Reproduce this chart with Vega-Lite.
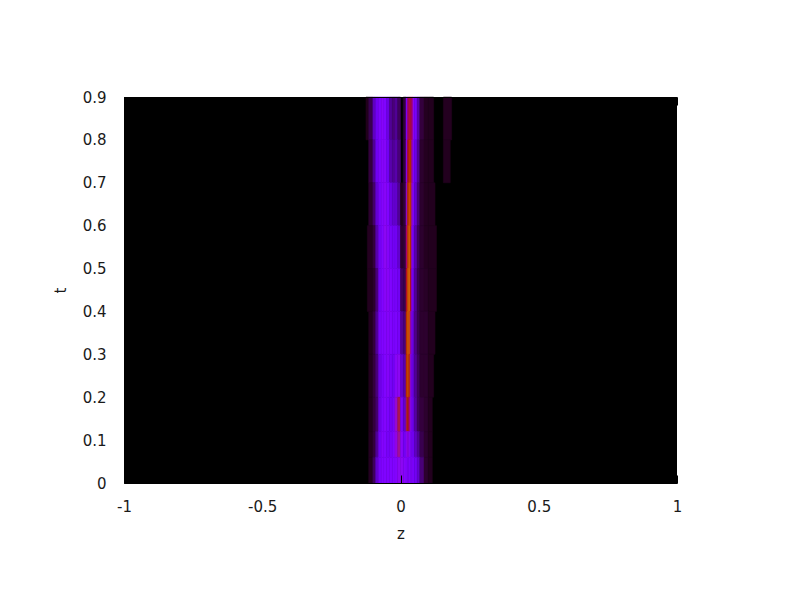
{"$schema":"https://vega.github.io/schema/vega-lite/v6.json","width":553,"height":386,"autosize":"none","padding":{"left":124,"top":97,"right":123,"bottom":117},"background":"white","config":{"view":{"fill":"#000000","stroke":null}},
"layer":[{
"data":{"values":[
{"t0":0.8,"t1":0.9,"z0":-0.125,"z1":-0.115,"v":0.01},{"t0":0.8,"t1":0.9,"z0":-0.115,"z1":-0.1,"v":0.05},{"t0":0.8,"t1":0.9,"z0":-0.1,"z1":-0.09,"v":0.14},{"t0":0.8,"t1":0.9,"z0":-0.09,"z1":-0.08,"v":0.2},{"t0":0.8,"t1":0.9,"z0":-0.08,"z1":-0.07,"v":0.24},{"t0":0.8,"t1":0.9,"z0":-0.07,"z1":-0.06,"v":0.27},{"t0":0.8,"t1":0.9,"z0":-0.06,"z1":-0.05,"v":0.25},{"t0":0.8,"t1":0.9,"z0":-0.05,"z1":-0.04,"v":0.18},{"t0":0.8,"t1":0.9,"z0":-0.04,"z1":-0.03,"v":0.1},{"t0":0.8,"t1":0.9,"z0":-0.03,"z1":-0.02,"v":0.08},{"t0":0.8,"t1":0.9,"z0":-0.02,"z1":-0.01,"v":0.1},{"t0":0.8,"t1":0.9,"z0":-0.01,"z1":0,"v":0.06},{"t0":0.8,"t1":0.9,"z0":0.01,"z1":0.02,"v":0.04},{"t0":0.8,"t1":0.9,"z0":0.02,"z1":0.025,"v":0.25},{"t0":0.8,"t1":0.9,"z0":0.025,"z1":0.03,"v":0.42},{"t0":0.8,"t1":0.9,"z0":0.03,"z1":0.035,"v":0.46},{"t0":0.8,"t1":0.9,"z0":0.035,"z1":0.04,"v":0.46},{"t0":0.8,"t1":0.9,"z0":0.04,"z1":0.045,"v":0.42},{"t0":0.8,"t1":0.9,"z0":0.045,"z1":0.05,"v":0.3},{"t0":0.8,"t1":0.9,"z0":0.05,"z1":0.06,"v":0.22},{"t0":0.8,"t1":0.9,"z0":0.06,"z1":0.07,"v":0.12},{"t0":0.8,"t1":0.9,"z0":0.07,"z1":0.085,"v":0.04},{"t0":0.8,"t1":0.9,"z0":0.085,"z1":0.1,"v":0.02},{"t0":0.8,"t1":0.9,"z0":0.1,"z1":0.12,"v":0.015},{"t0":0.8,"t1":0.9,"z0":0.155,"z1":0.185,"v":0.02},
{"t0":0.7,"t1":0.8,"z0":-0.115,"z1":-0.1,"v":0.04},{"t0":0.7,"t1":0.8,"z0":-0.1,"z1":-0.09,"v":0.1},{"t0":0.7,"t1":0.8,"z0":-0.09,"z1":-0.08,"v":0.2},{"t0":0.7,"t1":0.8,"z0":-0.08,"z1":-0.07,"v":0.24},{"t0":0.7,"t1":0.8,"z0":-0.07,"z1":-0.06,"v":0.27},{"t0":0.7,"t1":0.8,"z0":-0.06,"z1":-0.05,"v":0.27},{"t0":0.7,"t1":0.8,"z0":-0.05,"z1":-0.04,"v":0.2},{"t0":0.7,"t1":0.8,"z0":-0.04,"z1":-0.03,"v":0.12},{"t0":0.7,"t1":0.8,"z0":-0.03,"z1":-0.02,"v":0.1},{"t0":0.7,"t1":0.8,"z0":-0.02,"z1":-0.01,"v":0.12},{"t0":0.7,"t1":0.8,"z0":-0.01,"z1":0,"v":0.08},{"t0":0.7,"t1":0.8,"z0":0.01,"z1":0.02,"v":0.04},{"t0":0.7,"t1":0.8,"z0":0.02,"z1":0.025,"v":0.3},{"t0":0.7,"t1":0.8,"z0":0.025,"z1":0.03,"v":0.48},{"t0":0.7,"t1":0.8,"z0":0.03,"z1":0.035,"v":0.55},{"t0":0.7,"t1":0.8,"z0":0.035,"z1":0.04,"v":0.55},{"t0":0.7,"t1":0.8,"z0":0.04,"z1":0.045,"v":0.38},{"t0":0.7,"t1":0.8,"z0":0.045,"z1":0.05,"v":0.25},{"t0":0.7,"t1":0.8,"z0":0.05,"z1":0.06,"v":0.18},{"t0":0.7,"t1":0.8,"z0":0.06,"z1":0.07,"v":0.1},{"t0":0.7,"t1":0.8,"z0":0.07,"z1":0.085,"v":0.03},{"t0":0.7,"t1":0.8,"z0":0.085,"z1":0.1,"v":0.02},{"t0":0.7,"t1":0.8,"z0":0.1,"z1":0.12,"v":0.015},{"t0":0.7,"t1":0.8,"z0":0.155,"z1":0.18,"v":0.015},
{"t0":0.6,"t1":0.7,"z0":-0.115,"z1":-0.1,"v":0.03},{"t0":0.6,"t1":0.7,"z0":-0.1,"z1":-0.09,"v":0.07},{"t0":0.6,"t1":0.7,"z0":-0.09,"z1":-0.08,"v":0.16},{"t0":0.6,"t1":0.7,"z0":-0.08,"z1":-0.07,"v":0.22},{"t0":0.6,"t1":0.7,"z0":-0.07,"z1":-0.06,"v":0.26},{"t0":0.6,"t1":0.7,"z0":-0.06,"z1":-0.05,"v":0.28},{"t0":0.6,"t1":0.7,"z0":-0.05,"z1":-0.04,"v":0.25},{"t0":0.6,"t1":0.7,"z0":-0.04,"z1":-0.03,"v":0.18},{"t0":0.6,"t1":0.7,"z0":-0.03,"z1":-0.02,"v":0.15},{"t0":0.6,"t1":0.7,"z0":-0.02,"z1":-0.01,"v":0.15},{"t0":0.6,"t1":0.7,"z0":-0.01,"z1":0,"v":0.1},{"t0":0.6,"t1":0.7,"z0":0,"z1":0.01,"v":0.01},{"t0":0.6,"t1":0.7,"z0":0.01,"z1":0.02,"v":0.04},{"t0":0.6,"t1":0.7,"z0":0.02,"z1":0.025,"v":0.35},{"t0":0.6,"t1":0.7,"z0":0.025,"z1":0.03,"v":0.55},{"t0":0.6,"t1":0.7,"z0":0.03,"z1":0.035,"v":0.65},{"t0":0.6,"t1":0.7,"z0":0.035,"z1":0.04,"v":0.6},{"t0":0.6,"t1":0.7,"z0":0.04,"z1":0.045,"v":0.35},{"t0":0.6,"t1":0.7,"z0":0.045,"z1":0.05,"v":0.25},{"t0":0.6,"t1":0.7,"z0":0.05,"z1":0.06,"v":0.15},{"t0":0.6,"t1":0.7,"z0":0.06,"z1":0.07,"v":0.08},{"t0":0.6,"t1":0.7,"z0":0.07,"z1":0.085,"v":0.03},{"t0":0.6,"t1":0.7,"z0":0.085,"z1":0.1,"v":0.02},{"t0":0.6,"t1":0.7,"z0":0.1,"z1":0.125,"v":0.015},
{"t0":0.5,"t1":0.6,"z0":-0.12,"z1":-0.1,"v":0.02},{"t0":0.5,"t1":0.6,"z0":-0.1,"z1":-0.09,"v":0.04},{"t0":0.5,"t1":0.6,"z0":-0.09,"z1":-0.08,"v":0.12},{"t0":0.5,"t1":0.6,"z0":-0.08,"z1":-0.07,"v":0.2},{"t0":0.5,"t1":0.6,"z0":-0.07,"z1":-0.06,"v":0.25},{"t0":0.5,"t1":0.6,"z0":-0.06,"z1":-0.05,"v":0.3},{"t0":0.5,"t1":0.6,"z0":-0.05,"z1":-0.04,"v":0.27},{"t0":0.5,"t1":0.6,"z0":-0.04,"z1":-0.03,"v":0.22},{"t0":0.5,"t1":0.6,"z0":-0.03,"z1":-0.02,"v":0.2},{"t0":0.5,"t1":0.6,"z0":-0.02,"z1":-0.01,"v":0.2},{"t0":0.5,"t1":0.6,"z0":-0.01,"z1":0,"v":0.15},{"t0":0.5,"t1":0.6,"z0":0,"z1":0.01,"v":0.03},{"t0":0.5,"t1":0.6,"z0":0.01,"z1":0.02,"v":0.04},{"t0":0.5,"t1":0.6,"z0":0.02,"z1":0.025,"v":0.42},{"t0":0.5,"t1":0.6,"z0":0.025,"z1":0.03,"v":0.62},{"t0":0.5,"t1":0.6,"z0":0.03,"z1":0.035,"v":0.72},{"t0":0.5,"t1":0.6,"z0":0.035,"z1":0.04,"v":0.55},{"t0":0.5,"t1":0.6,"z0":0.04,"z1":0.045,"v":0.3},{"t0":0.5,"t1":0.6,"z0":0.045,"z1":0.05,"v":0.2},{"t0":0.5,"t1":0.6,"z0":0.05,"z1":0.06,"v":0.12},{"t0":0.5,"t1":0.6,"z0":0.06,"z1":0.07,"v":0.06},{"t0":0.5,"t1":0.6,"z0":0.07,"z1":0.085,"v":0.03},{"t0":0.5,"t1":0.6,"z0":0.085,"z1":0.1,"v":0.02},{"t0":0.5,"t1":0.6,"z0":0.1,"z1":0.13,"v":0.015},
{"t0":0.4,"t1":0.5,"z0":-0.12,"z1":-0.1,"v":0.015},{"t0":0.4,"t1":0.5,"z0":-0.1,"z1":-0.09,"v":0.03},{"t0":0.4,"t1":0.5,"z0":-0.09,"z1":-0.08,"v":0.08},{"t0":0.4,"t1":0.5,"z0":-0.08,"z1":-0.07,"v":0.2},{"t0":0.4,"t1":0.5,"z0":-0.07,"z1":-0.06,"v":0.25},{"t0":0.4,"t1":0.5,"z0":-0.06,"z1":-0.05,"v":0.28},{"t0":0.4,"t1":0.5,"z0":-0.05,"z1":-0.04,"v":0.28},{"t0":0.4,"t1":0.5,"z0":-0.04,"z1":-0.03,"v":0.25},{"t0":0.4,"t1":0.5,"z0":-0.03,"z1":-0.02,"v":0.22},{"t0":0.4,"t1":0.5,"z0":-0.02,"z1":-0.01,"v":0.22},{"t0":0.4,"t1":0.5,"z0":-0.01,"z1":0,"v":0.2},{"t0":0.4,"t1":0.5,"z0":0,"z1":0.01,"v":0.06},{"t0":0.4,"t1":0.5,"z0":0.01,"z1":0.02,"v":0.05},{"t0":0.4,"t1":0.5,"z0":0.02,"z1":0.025,"v":0.48},{"t0":0.4,"t1":0.5,"z0":0.025,"z1":0.03,"v":0.7},{"t0":0.4,"t1":0.5,"z0":0.03,"z1":0.035,"v":0.75},{"t0":0.4,"t1":0.5,"z0":0.035,"z1":0.04,"v":0.48},{"t0":0.4,"t1":0.5,"z0":0.04,"z1":0.045,"v":0.26},{"t0":0.4,"t1":0.5,"z0":0.045,"z1":0.05,"v":0.18},{"t0":0.4,"t1":0.5,"z0":0.05,"z1":0.06,"v":0.1},{"t0":0.4,"t1":0.5,"z0":0.06,"z1":0.07,"v":0.05},{"t0":0.4,"t1":0.5,"z0":0.07,"z1":0.085,"v":0.03},{"t0":0.4,"t1":0.5,"z0":0.085,"z1":0.1,"v":0.025},{"t0":0.4,"t1":0.5,"z0":0.1,"z1":0.13,"v":0.015},
{"t0":0.3,"t1":0.4,"z0":-0.115,"z1":-0.1,"v":0.015},{"t0":0.3,"t1":0.4,"z0":-0.1,"z1":-0.09,"v":0.04},{"t0":0.3,"t1":0.4,"z0":-0.09,"z1":-0.08,"v":0.1},{"t0":0.3,"t1":0.4,"z0":-0.08,"z1":-0.07,"v":0.22},{"t0":0.3,"t1":0.4,"z0":-0.07,"z1":-0.06,"v":0.25},{"t0":0.3,"t1":0.4,"z0":-0.06,"z1":-0.05,"v":0.26},{"t0":0.3,"t1":0.4,"z0":-0.05,"z1":-0.04,"v":0.27},{"t0":0.3,"t1":0.4,"z0":-0.04,"z1":-0.03,"v":0.25},{"t0":0.3,"t1":0.4,"z0":-0.03,"z1":-0.02,"v":0.23},{"t0":0.3,"t1":0.4,"z0":-0.02,"z1":-0.01,"v":0.24},{"t0":0.3,"t1":0.4,"z0":-0.01,"z1":0,"v":0.22},{"t0":0.3,"t1":0.4,"z0":0,"z1":0.01,"v":0.1},{"t0":0.3,"t1":0.4,"z0":0.01,"z1":0.02,"v":0.08},{"t0":0.3,"t1":0.4,"z0":0.02,"z1":0.025,"v":0.55},{"t0":0.3,"t1":0.4,"z0":0.025,"z1":0.03,"v":0.72},{"t0":0.3,"t1":0.4,"z0":0.03,"z1":0.035,"v":0.68},{"t0":0.3,"t1":0.4,"z0":0.035,"z1":0.04,"v":0.38},{"t0":0.3,"t1":0.4,"z0":0.04,"z1":0.045,"v":0.22},{"t0":0.3,"t1":0.4,"z0":0.045,"z1":0.05,"v":0.15},{"t0":0.3,"t1":0.4,"z0":0.05,"z1":0.06,"v":0.09},{"t0":0.3,"t1":0.4,"z0":0.06,"z1":0.07,"v":0.05},{"t0":0.3,"t1":0.4,"z0":0.07,"z1":0.085,"v":0.03},{"t0":0.3,"t1":0.4,"z0":0.085,"z1":0.1,"v":0.03},{"t0":0.3,"t1":0.4,"z0":0.1,"z1":0.125,"v":0.015},
{"t0":0.2,"t1":0.3,"z0":-0.115,"z1":-0.1,"v":0.015},{"t0":0.2,"t1":0.3,"z0":-0.1,"z1":-0.09,"v":0.04},{"t0":0.2,"t1":0.3,"z0":-0.09,"z1":-0.08,"v":0.08},{"t0":0.2,"t1":0.3,"z0":-0.08,"z1":-0.07,"v":0.18},{"t0":0.2,"t1":0.3,"z0":-0.07,"z1":-0.06,"v":0.22},{"t0":0.2,"t1":0.3,"z0":-0.06,"z1":-0.05,"v":0.25},{"t0":0.2,"t1":0.3,"z0":-0.05,"z1":-0.04,"v":0.27},{"t0":0.2,"t1":0.3,"z0":-0.04,"z1":-0.03,"v":0.22},{"t0":0.2,"t1":0.3,"z0":-0.03,"z1":-0.02,"v":0.2},{"t0":0.2,"t1":0.3,"z0":-0.02,"z1":-0.01,"v":0.28},{"t0":0.2,"t1":0.3,"z0":-0.01,"z1":0,"v":0.3},{"t0":0.2,"t1":0.3,"z0":0,"z1":0.01,"v":0.15},{"t0":0.2,"t1":0.3,"z0":0.01,"z1":0.02,"v":0.12},{"t0":0.2,"t1":0.3,"z0":0.02,"z1":0.025,"v":0.55},{"t0":0.2,"t1":0.3,"z0":0.025,"z1":0.03,"v":0.68},{"t0":0.2,"t1":0.3,"z0":0.03,"z1":0.035,"v":0.55},{"t0":0.2,"t1":0.3,"z0":0.035,"z1":0.04,"v":0.32},{"t0":0.2,"t1":0.3,"z0":0.04,"z1":0.045,"v":0.2},{"t0":0.2,"t1":0.3,"z0":0.045,"z1":0.05,"v":0.15},{"t0":0.2,"t1":0.3,"z0":0.05,"z1":0.06,"v":0.1},{"t0":0.2,"t1":0.3,"z0":0.06,"z1":0.07,"v":0.06},{"t0":0.2,"t1":0.3,"z0":0.07,"z1":0.085,"v":0.03},{"t0":0.2,"t1":0.3,"z0":0.085,"z1":0.1,"v":0.03},{"t0":0.2,"t1":0.3,"z0":0.1,"z1":0.12,"v":0.015},
{"t0":0.12,"t1":0.2,"z0":-0.115,"z1":-0.1,"v":0.015},{"t0":0.12,"t1":0.2,"z0":-0.1,"z1":-0.09,"v":0.04},{"t0":0.12,"t1":0.2,"z0":-0.09,"z1":-0.08,"v":0.07},{"t0":0.12,"t1":0.2,"z0":-0.08,"z1":-0.07,"v":0.18},{"t0":0.12,"t1":0.2,"z0":-0.07,"z1":-0.06,"v":0.24},{"t0":0.12,"t1":0.2,"z0":-0.06,"z1":-0.05,"v":0.26},{"t0":0.12,"t1":0.2,"z0":-0.05,"z1":-0.04,"v":0.24},{"t0":0.12,"t1":0.2,"z0":-0.04,"z1":-0.03,"v":0.2},{"t0":0.12,"t1":0.2,"z0":-0.03,"z1":-0.02,"v":0.22},{"t0":0.12,"t1":0.2,"z0":-0.02,"z1":-0.01,"v":0.35},{"t0":0.12,"t1":0.2,"z0":-0.01,"z1":0,"v":0.45},{"t0":0.12,"t1":0.2,"z0":0,"z1":0.01,"v":0.22},{"t0":0.12,"t1":0.2,"z0":0.01,"z1":0.02,"v":0.15},{"t0":0.12,"t1":0.2,"z0":0.02,"z1":0.025,"v":0.45},{"t0":0.12,"t1":0.2,"z0":0.025,"z1":0.03,"v":0.52},{"t0":0.12,"t1":0.2,"z0":0.03,"z1":0.035,"v":0.42},{"t0":0.12,"t1":0.2,"z0":0.035,"z1":0.04,"v":0.3},{"t0":0.12,"t1":0.2,"z0":0.04,"z1":0.045,"v":0.22},{"t0":0.12,"t1":0.2,"z0":0.045,"z1":0.05,"v":0.17},{"t0":0.12,"t1":0.2,"z0":0.05,"z1":0.06,"v":0.11},{"t0":0.12,"t1":0.2,"z0":0.06,"z1":0.07,"v":0.06},{"t0":0.12,"t1":0.2,"z0":0.07,"z1":0.085,"v":0.04},{"t0":0.12,"t1":0.2,"z0":0.085,"z1":0.1,"v":0.03},{"t0":0.12,"t1":0.2,"z0":0.1,"z1":0.115,"v":0.015},
{"t0":0.06,"t1":0.12,"z0":-0.115,"z1":-0.1,"v":0.02},{"t0":0.06,"t1":0.12,"z0":-0.1,"z1":-0.09,"v":0.04},{"t0":0.06,"t1":0.12,"z0":-0.09,"z1":-0.08,"v":0.1},{"t0":0.06,"t1":0.12,"z0":-0.08,"z1":-0.07,"v":0.2},{"t0":0.06,"t1":0.12,"z0":-0.07,"z1":-0.06,"v":0.26},{"t0":0.06,"t1":0.12,"z0":-0.06,"z1":-0.05,"v":0.25},{"t0":0.06,"t1":0.12,"z0":-0.05,"z1":-0.04,"v":0.22},{"t0":0.06,"t1":0.12,"z0":-0.04,"z1":-0.03,"v":0.22},{"t0":0.06,"t1":0.12,"z0":-0.03,"z1":-0.02,"v":0.25},{"t0":0.06,"t1":0.12,"z0":-0.02,"z1":-0.01,"v":0.32},{"t0":0.06,"t1":0.12,"z0":-0.01,"z1":0,"v":0.4},{"t0":0.06,"t1":0.12,"z0":0,"z1":0.01,"v":0.28},{"t0":0.06,"t1":0.12,"z0":0.01,"z1":0.02,"v":0.2},{"t0":0.06,"t1":0.12,"z0":0.02,"z1":0.025,"v":0.3},{"t0":0.06,"t1":0.12,"z0":0.025,"z1":0.03,"v":0.32},{"t0":0.06,"t1":0.12,"z0":0.03,"z1":0.035,"v":0.3},{"t0":0.06,"t1":0.12,"z0":0.035,"z1":0.04,"v":0.25},{"t0":0.06,"t1":0.12,"z0":0.04,"z1":0.045,"v":0.22},{"t0":0.06,"t1":0.12,"z0":0.045,"z1":0.05,"v":0.2},{"t0":0.06,"t1":0.12,"z0":0.05,"z1":0.06,"v":0.14},{"t0":0.06,"t1":0.12,"z0":0.06,"z1":0.07,"v":0.1},{"t0":0.06,"t1":0.12,"z0":0.07,"z1":0.085,"v":0.05},{"t0":0.06,"t1":0.12,"z0":0.085,"z1":0.1,"v":0.03},{"t0":0.06,"t1":0.12,"z0":0.1,"z1":0.115,"v":0.015},
{"t0":0,"t1":0.06,"z0":-0.115,"z1":-0.1,"v":0.02},{"t0":0,"t1":0.06,"z0":-0.1,"z1":-0.09,"v":0.06},{"t0":0,"t1":0.06,"z0":-0.09,"z1":-0.08,"v":0.15},{"t0":0,"t1":0.06,"z0":-0.08,"z1":-0.07,"v":0.22},{"t0":0,"t1":0.06,"z0":-0.07,"z1":-0.06,"v":0.25},{"t0":0,"t1":0.06,"z0":-0.06,"z1":-0.05,"v":0.25},{"t0":0,"t1":0.06,"z0":-0.05,"z1":-0.04,"v":0.25},{"t0":0,"t1":0.06,"z0":-0.04,"z1":-0.03,"v":0.25},{"t0":0,"t1":0.06,"z0":-0.03,"z1":-0.02,"v":0.25},{"t0":0,"t1":0.06,"z0":-0.02,"z1":-0.01,"v":0.26},{"t0":0,"t1":0.06,"z0":-0.01,"z1":0,"v":0.3},{"t0":0,"t1":0.06,"z0":0,"z1":0.01,"v":0.3},{"t0":0,"t1":0.06,"z0":0.01,"z1":0.02,"v":0.27},{"t0":0,"t1":0.06,"z0":0.02,"z1":0.025,"v":0.26},{"t0":0,"t1":0.06,"z0":0.025,"z1":0.03,"v":0.25},{"t0":0,"t1":0.06,"z0":0.03,"z1":0.035,"v":0.25},{"t0":0,"t1":0.06,"z0":0.035,"z1":0.04,"v":0.25},{"t0":0,"t1":0.06,"z0":0.04,"z1":0.045,"v":0.25},{"t0":0,"t1":0.06,"z0":0.045,"z1":0.05,"v":0.24},{"t0":0,"t1":0.06,"z0":0.05,"z1":0.06,"v":0.2},{"t0":0,"t1":0.06,"z0":0.06,"z1":0.07,"v":0.15},{"t0":0,"t1":0.06,"z0":0.07,"z1":0.085,"v":0.08},{"t0":0,"t1":0.06,"z0":0.085,"z1":0.1,"v":0.03},{"t0":0,"t1":0.06,"z0":0.1,"z1":0.115,"v":0.015}
]},
"mark":{"type":"rect","strokeWidth":0.5},
"encoding":{
"x":{"field":"z0","type":"quantitative","scale":{"domain":[-1,1],"nice":false},"axis":{"title":"z","values":[-1,-0.5,0,0.5,1],"labelExpr":"''+datum.value","grid":false,"zindex":1,"domainColor":"#000000","tickColor":"#000000","tickSize":-8,"labelColor":"#1a1a1a","titleColor":"#1a1a1a","labelFont":"DejaVu Sans","titleFont":"DejaVu Sans","labelFontSize":15,"titleFontSize":15,"titleFontWeight":"normal","labelPadding":24,"titlePadding":12,"labelFlush":false}},
"x2":{"field":"z1"},
"y":{"field":"t0","type":"quantitative","scale":{"domain":[0,0.9],"nice":false},"axis":{"title":"t","values":[0,0.1,0.2,0.3,0.4,0.5,0.6,0.7,0.8,0.9],"labelExpr":"''+datum.value","grid":false,"zindex":1,"domainColor":"#000000","tickColor":"#000000","tickSize":-8,"labelColor":"#1a1a1a","titleColor":"#1a1a1a","labelFont":"DejaVu Sans","titleFont":"DejaVu Sans","labelFontSize":15,"titleFontSize":15,"titleFontWeight":"normal","labelPadding":26,"titlePadding":14}},
"y2":{"field":"t1"},
"color":{"field":"v","type":"quantitative","legend":null,"scale":{"domain":[0,0.02,0.05,0.1,0.15,0.2,0.25,0.3,0.35,0.4,0.45,0.5,0.6,0.7,0.8],"range":["#000000","#240020","#39004f","#510096","#6301ce","#7202f3","#8004ff","#8c07f3","#970bce","#a11096","#ab174f","#b42000","#c63700","#d55700","#e48300"]}},
"stroke":{"field":"v","type":"quantitative","legend":null,"scale":{"domain":[0,0.02,0.05,0.1,0.15,0.2,0.25,0.3,0.35,0.4,0.45,0.5,0.6,0.7,0.8],"range":["#000000","#240020","#39004f","#510096","#6301ce","#7202f3","#8004ff","#8c07f3","#970bce","#a11096","#ab174f","#b42000","#c63700","#d55700","#e48300"]}}
}},
{"data":{"values":[{"z":0}]},"mark":{"type":"rule","opacity":0},
"encoding":{"x":{"field":"z","type":"quantitative","scale":{"domain":[-1,1],"nice":false},"axis":{"orient":"top","title":null,"values":[-1,-0.5,0,0.5,1],"labels":false,"grid":false,"zindex":1,"domainColor":"#000000","tickColor":"#000000","tickSize":-8}}}}
],
"resolve":{"axis":{"x":"independent"}}
}
